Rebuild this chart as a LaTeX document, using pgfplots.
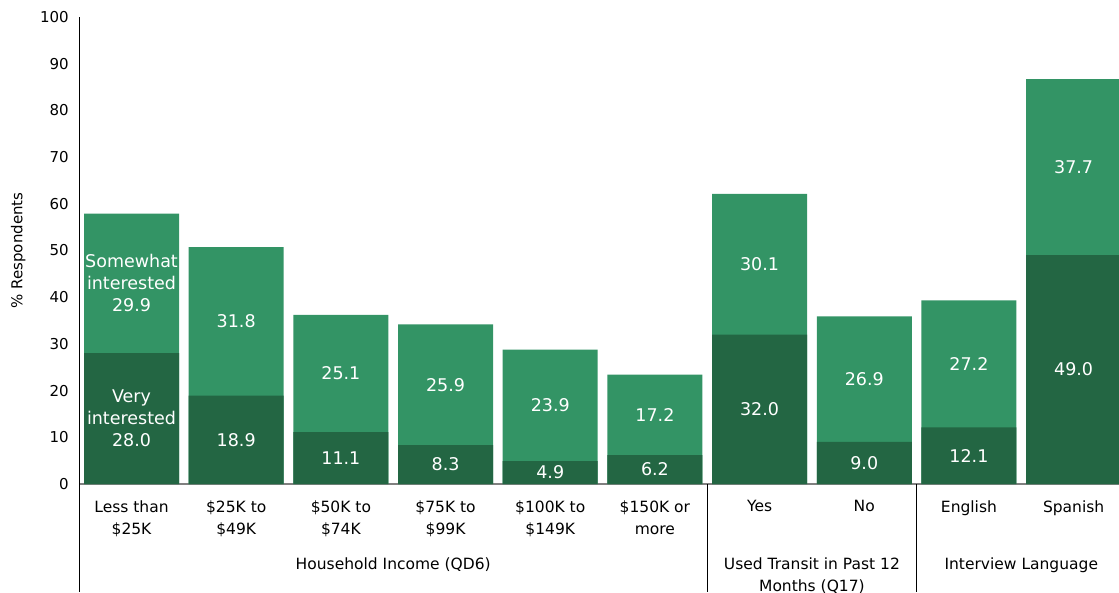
\documentclass[border=0pt]{standalone}
\usepackage{pgfplots}
\pgfplotsset{compat=1.18}
\usepackage{pgfplotstable}
\usepackage{fontspec}
\setmainfont{DejaVu Sans}
\definecolor{dk}{RGB}{35,102,67}
\definecolor{lt}{RGB}{51,148,101}
\protected\def\lblV{Very\\interested\\28.0}
\protected\def\lblS{Somewhat\\interested\\29.9}
\newcommand\ff{\fontsize{15.5}{22}\selectfont}
\newcommand\fy{\fontsize{15}{22}\selectfont}
\newcommand\fb{\fontsize{17.5}{22}\selectfont}

\pgfplotstableread{
x dark light
0 28.0 29.9
1 18.9 31.8
2 11.1 25.1
3 8.3 25.9
4 4.9 23.9
5 6.2 17.2
6 32.0 30.1
7 9.0 26.9
8 12.1 27.2
9 49.0 37.7
}\data

\begin{document}
\begin{tikzpicture}
\useasboundingbox (-79.2pt,-108pt) rectangle (1039.8pt,484pt);
\begin{axis}[
  at={(0,0)}, anchor=south west,
  scale only axis, width=1046.7pt, height=467pt,
  xmin=-0.5, xmax=9.5, ymin=0, ymax=100,
  clip=false,
  axis lines*=left,
  x axis line style={draw=gray, line width=1.5pt},
  y axis line style={draw=black, line width=1pt},
  major tick length=0pt,
  tick style={draw=none},
  ytick={0,10,...,100},
  xtick={0,...,9},
  xticklabels={{Less than\\\$25K},{\$25K to\\\$49K},{\$50K to\\\$74K},{\$75K to\\\$99K},{\$100K to\\\$149K},{\$150K or\\more},Yes,No,English,Spanish},
  xticklabel style={align=center, font=\ff, anchor=north, yshift=-13pt},
  yticklabel style={font=\fy, anchor=east, xshift=-7pt},
  /pgf/number format/assume math mode=true,
  ylabel={\% Respondents},
  every axis y label/.style={at={(axis description cs:-0.0583,0.5)}, rotate=90, anchor=center, font=\fy},
]
\addplot[ybar, bar width=0.9076, bar shift=0pt, fill=lt, draw=none]
  table[x=x, y expr=\thisrow{dark}+\thisrow{light}] {\data};
\addplot[ybar, bar width=0.9076, bar shift=0pt, fill=dk, draw=none]
  table[x=x, y=dark] {\data};
\addplot[draw=none, mark=none, nodes near coords, point meta=explicit symbolic,
  every node near coord/.append style={anchor=center, align=center, text=white, font=\fb}]
  coordinates {(0,14.0)[\lblV] (1,9.45)[18.9] (2,5.55)[11.1] (3,4.15)[8.3] (4,2.45)[4.9]
    (5,3.1)[6.2] (6,16.0)[32.0] (7,4.5)[9.0] (8,6.05)[12.1] (9,24.5)[49.0]};
\addplot[draw=none, mark=none, nodes near coords, point meta=explicit symbolic,
  every node near coord/.append style={anchor=center, align=center, text=white, font=\fb}]
  coordinates {(0,42.95)[\lblS] (1,34.8)[31.8] (2,23.65)[25.1] (3,21.25)[25.9] (4,16.85)[23.9]
    (5,14.8)[17.2] (6,47.05)[30.1] (7,22.45)[26.9] (8,25.7)[27.2] (9,67.85)[37.7]};
\draw[black, line width=1pt] (axis cs:-0.5,0) -- ++(0pt,-108pt);
\draw[black, line width=1pt] (axis cs:5.5,0) -- ++(0pt,-108pt);
\draw[black, line width=1pt] (axis cs:7.5,0) -- ++(0pt,-108pt);
\node[font=\ff, align=center, anchor=north] at (axis cs:2.5,0) [yshift=-70pt] {Household Income (QD6)};
\node[font=\ff, align=center, anchor=north] at (axis cs:6.5,0) [yshift=-70pt] {Used Transit in Past 12\\Months (Q17)};
\node[font=\ff, align=center, anchor=north] at (axis cs:8.5,0) [yshift=-70pt] {Interview Language};
\end{axis}
\end{tikzpicture}
\end{document}
